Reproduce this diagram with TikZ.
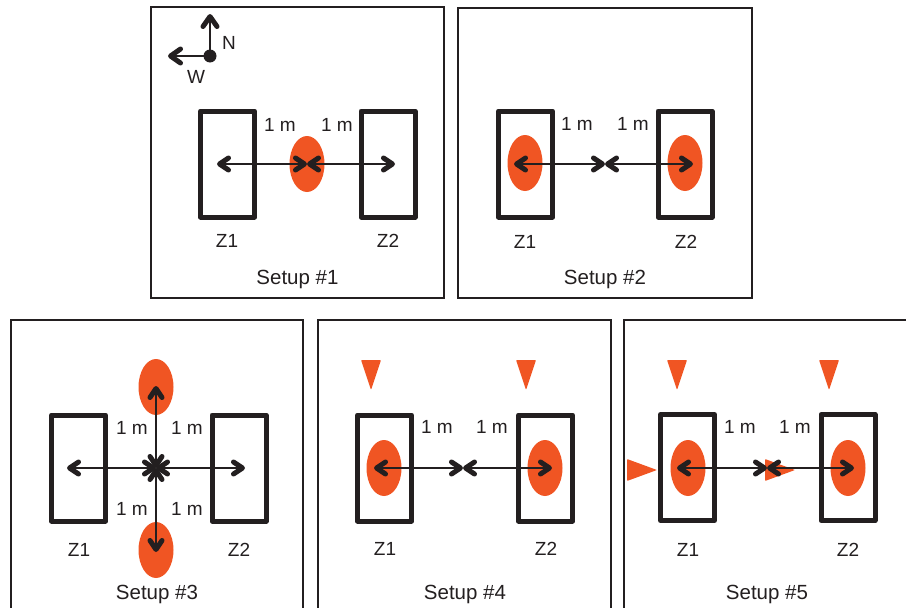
\documentclass[tikz,border=0pt]{standalone}
\usepackage{fontspec}
\setmainfont{Liberation Sans}
\usetikzlibrary{arrows.meta,shapes.geometric}
\definecolor{blob}{RGB}{240,85,35}
\definecolor{ink}{RGB}{35,31,32}
\begin{document}
\begin{tikzpicture}[x=1pt,y=-1pt,
  panel/.style={draw=ink,line width=1.6pt},
  zone/.style={draw=ink,line width=5pt,minimum width=54pt,minimum height=106pt,inner sep=0pt,line join=round},
  spot/.style={ellipse,fill=blob,minimum width=35pt,minimum height=56pt,inner sep=0pt},
  lbl/.style={font=\fontsize{19}{22}\selectfont,text=ink,inner sep=0pt,text height=13.7pt,text depth=0pt},
  ttl/.style={font=\fontsize{20.5}{24}\selectfont,text=ink,inner sep=0pt,text height=14.8pt,text depth=0pt},
  >={Straight Barb[length=9pt,width=12pt,line width=5pt,round]},
  dim/.style={draw=ink,line width=1.7pt,<->},
  comp/.style={draw=ink,line width=2pt,-{Straight Barb[length=10pt,width=14pt,line width=5pt,round]}},
  tri/.style={fill=blob,rounded corners=0.8pt}
]
\useasboundingbox (0,0) rectangle (906,608);
\clip (0,0) rectangle (906,608);

% ---------- panels ----------
\draw[panel] (151,7) rectangle (444,298);
\draw[panel] (458,8) rectangle (752,298);
\draw[panel] (11,320) rectangle (303,620);
\draw[panel] (318,320) rectangle (611,620);
\draw[panel] (624,320) rectangle (920,620);

% ---------- Setup 1 ----------
\node[spot] (s1) at (307,164) {};
\node[zone] (z1a) at (227.5,164) {};
\node[zone] (z1b) at (388,164) {};
\coordinate (c1) at (307,164);
\coordinate (l1) at (217,164);
\coordinate (r1) at (395,164);
\draw[dim] (c1) -- (l1);
\draw[dim] (c1) -- (r1);
\node[lbl] (m1a) at (280,125) {1 m};
\node[lbl] (m1b) at (337,125) {1 m};
\node[lbl] (t1a) at (227,241) {Z1};
\node[lbl] (t1b) at (388,241) {Z2};
\node[ttl] (ti1) at (297.5,277) {Setup \#1};
% compass
\node[circle,fill=ink,minimum size=13pt,inner sep=0pt] (dot) at (210,56) {};
\coordinate (nt) at (210,14);
\coordinate (wt) at (168,56);
\draw[comp] (dot.center) -- (nt);
\draw[comp] (dot.center) -- (wt);
\node[lbl] (nl) at (229,43) {N};
\node[lbl] (wl) at (196,77) {W};

% ---------- Setup 2 ----------
\node[spot] (s2a) at (525,163) {};
\node[spot] (s2b) at (685,163) {};
\node[zone] (z2a) at (525.5,164) {};
\node[zone] (z2b) at (685,164) {};
\coordinate (c2) at (605,164);
\coordinate (l2) at (514,164);
\coordinate (r2) at (693,164);
\draw[dim] (c2) -- (l2);
\draw[dim] (c2) -- (r2);
\node[lbl] (m2a) at (577,124) {1 m};
\node[lbl] (m2b) at (633,124) {1 m};
\node[lbl] (t2a) at (525,242) {Z1};
\node[lbl] (t2b) at (686,242) {Z2};
\node[ttl] (ti2) at (605,277) {Setup \#2};

% ---------- Setup 3 ----------
\node[spot] (s3a) at (156,387) {};
\node[spot] (s3b) at (156,550) {};
\node[zone] (z3a) at (78.5,468) {};
\node[zone] (z3b) at (239,468) {};
\coordinate (c3) at (156,468);
\coordinate (l3) at (67,468);
\coordinate (r3) at (245,468);
\coordinate (u3) at (156,386);
\coordinate (d3) at (156,552);
\draw[dim] (c3) -- (l3);
\draw[dim] (c3) -- (r3);
\draw[dim] (c3) -- (u3);
\draw[dim] (c3) -- (d3);
\node[lbl] (m3a) at (132,428) {1 m};
\node[lbl] (m3b) at (187,428) {1 m};
\node[lbl] (m3c) at (132,509) {1 m};
\node[lbl] (m3d) at (187,509) {1 m};
\node[lbl] (t3a) at (79,550) {Z1};
\node[lbl] (t3b) at (239,550) {Z2};
\node[ttl] (ti3) at (157,592) {Setup \#3};

% ---------- Setup 4 ----------
\fill[tri] (361,360) -- (381,360) -- (371,390) -- cycle;
\fill[tri] (516,360) -- (536,360) -- (526,390) -- cycle;
\node[spot] (s4a) at (384,468) {};
\node[spot] (s4b) at (545,468) {};
\node[zone] (z4a) at (384.5,468) {};
\node[zone] (z4b) at (545.5,468) {};
\coordinate (c4) at (463,468);
\coordinate (l4) at (374,468);
\coordinate (r4) at (552,468);
\draw[dim] (c4) -- (l4);
\draw[dim] (c4) -- (r4);
\node[lbl] (m4a) at (437,427) {1 m};
\node[lbl] (m4b) at (492,427) {1 m};
\node[lbl] (t4a) at (385,549) {Z1};
\node[lbl] (t4b) at (546,549) {Z2};
\node[ttl] (ti4) at (465,592) {Setup \#4};

% ---------- Setup 5 ----------
\fill[tri] (667,360) -- (687,360) -- (677,390) -- cycle;
\fill[tri] (819,360) -- (839,360) -- (829,390) -- cycle;
\fill[tri] (627,459) -- (627,481) -- (657,470) -- cycle;
\fill[tri] (765,459) -- (765,481) -- (795,470) -- cycle;
\node[spot] (s5a) at (688,468) {};
\node[spot] (s5b) at (848,468) {};
\node[zone] (z5a) at (687.5,467.5) {};
\node[zone] (z5b) at (848,467.5) {};
\coordinate (c5) at (767,468);
\coordinate (l5) at (677,468);
\coordinate (r5) at (854,468);
\draw[dim] (c5) -- (l5);
\draw[dim] (c5) -- (r5);
\node[lbl] (m5a) at (740,427) {1 m};
\node[lbl] (m5b) at (795,427) {1 m};
\node[lbl] (t5a) at (688,550) {Z1};
\node[lbl] (t5b) at (848,550) {Z2};
\node[ttl] (ti5) at (767,592) {Setup \#5};
\end{tikzpicture}
\end{document}
